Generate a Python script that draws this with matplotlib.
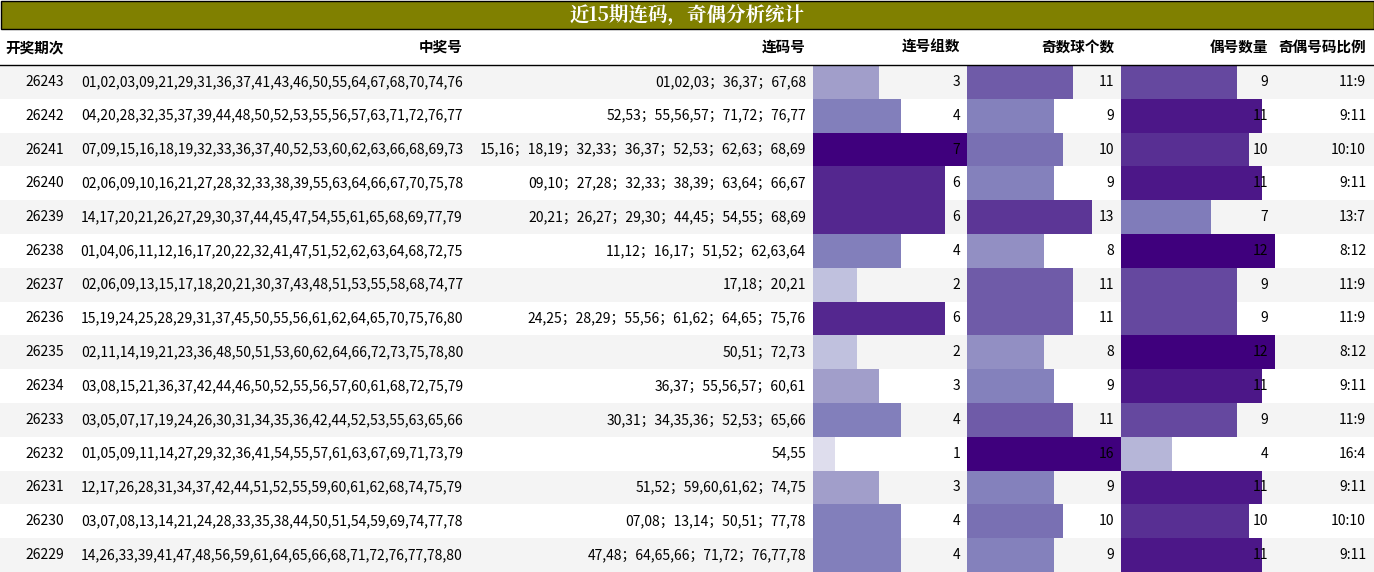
import numpy as np
import matplotlib
import matplotlib.pyplot as plt

plt.rcParams['font.family'] = ['Noto Sans CJK SC', 'DejaVu Sans']

periods = ['26243', '26242', '26241', '26240', '26239', '26238', '26237', '26236',
           '26235', '26234', '26233', '26232', '26231', '26230', '26229']
winning = ['01,02,03,09,21,29,31,36,37,41,43,46,50,55,64,67,68,70,74,76',
           '04,20,28,32,35,37,39,44,48,50,52,53,55,56,57,63,71,72,76,77',
           '07,09,15,16,18,19,32,33,36,37,40,52,53,60,62,63,66,68,69,73',
           '02,06,09,10,16,21,27,28,32,33,38,39,55,63,64,66,67,70,75,78',
           '14,17,20,21,26,27,29,30,37,44,45,47,54,55,61,65,68,69,77,79',
           '01,04,06,11,12,16,17,20,22,32,41,47,51,52,62,63,64,68,72,75',
           '02,06,09,13,15,17,18,20,21,30,37,43,48,51,53,55,58,68,74,77',
           '15,19,24,25,28,29,31,37,45,50,55,56,61,62,64,65,70,75,76,80',
           '02,11,14,19,21,23,36,48,50,51,53,60,62,64,66,72,73,75,78,80',
           '03,08,15,21,36,37,42,44,46,50,52,55,56,57,60,61,68,72,75,79',
           '03,05,07,17,19,24,26,30,31,34,35,36,42,44,52,53,55,63,65,66',
           '01,05,09,11,14,27,29,32,36,41,54,55,57,61,63,67,69,71,73,79',
           '12,17,26,28,31,34,37,42,44,51,52,55,59,60,61,62,68,74,75,79',
           '03,07,08,13,14,21,24,28,33,35,38,44,50,51,54,59,69,74,77,78',
           '14,26,33,39,41,47,48,56,59,61,64,65,66,68,71,72,76,77,78,80']
consec = ['01,02,03；36,37；67,68', '52,53；55,56,57；71,72；76,77',
          '15,16；18,19；32,33；36,37；52,53；62,63；68,69',
          '09,10；27,28；32,33；38,39；63,64；66,67',
          '20,21；26,27；29,30；44,45；54,55；68,69',
          '11,12；16,17；51,52；62,63,64', '17,18；20,21',
          '24,25；28,29；55,56；61,62；64,65；75,76', '50,51；72,73',
          '36,37；55,56,57；60,61', '30,31；34,35,36；52,53；65,66', '54,55',
          '51,52；59,60,61,62；74,75', '07,08；13,14；50,51；77,78',
          '47,48；64,65,66；71,72；76,77,78']
groups = [3, 4, 7, 6, 6, 4, 2, 6, 2, 3, 4, 1, 3, 4, 4]
odd = [11, 9, 10, 9, 13, 8, 11, 11, 8, 9, 11, 16, 9, 10, 9]
even = [9, 11, 10, 11, 7, 12, 9, 9, 12, 11, 9, 4, 11, 10, 11]
ratio = ['11:9', '9:11', '10:10', '9:11', '13:7', '8:12', '11:9', '11:9',
         '8:12', '9:11', '11:9', '16:4', '9:11', '10:10', '9:11']
headers = ['开奖期次', '中奖号', '连码号', '连号组数', '奇数球个数', '偶号数量', '奇偶号码比例']

W, H = 1374, 572
fig = plt.figure(figsize=(W / 100, H / 100), dpi=100)
ax = fig.add_axes([0, 0, 1, 1])
ax.set_xlim(0, W)
ax.set_ylim(H, 0)
ax.axis('off')

# title bar
ax.add_patch(plt.Rectangle((0.5, 0.5), W - 1, 28, facecolor='#808000', edgecolor='black', lw=1))
ax.text(W / 2, 15, '近15期连码，奇偶分析统计', color='white', fontsize=14, fontweight='bold',
        ha='center', va='center', family=['Noto Serif CJK SC', 'Noto Sans CJK SC', 'DejaVu Serif'])

# header
hx = [64, 463, 806, 960, 1114, 1268, 1366]
for x, h in zip(hx, headers):
    ax.text(x, 47, h, ha='right', va='center', fontsize=10.5, fontweight='bold')
ax.plot([0, W], [65, 65], color='black', lw=1)

row_h = (H - 65) / 15
cmap = matplotlib.colormaps['Purples']
bar_cols = [(813, groups), (967, odd), (1121, even)]
colw = 154
for i in range(15):
    y0 = 65 + i * row_h
    yc = y0 + row_h / 2
    if i % 2 == 0:
        ax.add_patch(plt.Rectangle((0, y0), W, row_h, facecolor='#f4f4f4', edgecolor='none'))
    for left, vals in bar_cols:
        v = vals[i]
        m = max(vals)
        ax.barh(yc, v / m * colw, left=left, height=row_h, color=cmap(0.1 + 0.9 * v / m), align='center')
        ax.text(left + 147, yc, str(v), ha='right', va='center', fontsize=10)
    ax.text(64, yc, periods[i], ha='right', va='center', fontsize=10)
    ax.text(463, yc, winning[i], ha='right', va='center', fontsize=10)
    ax.text(806, yc, consec[i], ha='right', va='center', fontsize=10)
    ax.text(1366, yc, ratio[i], ha='right', va='center', fontsize=10)

fig.savefig('out.png', dpi=100)
